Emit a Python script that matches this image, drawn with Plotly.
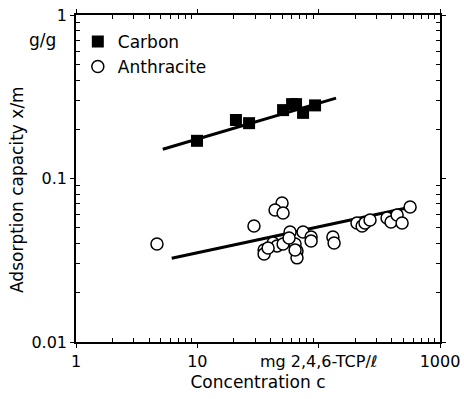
import plotly.graph_objects as go

# Carbon (filled squares)
carbon_c = [9.94, 20.8, 26.7, 50.9, 60.4, 65.1, 74.4, 93.4]
carbon_q = [0.170, 0.228, 0.218, 0.262, 0.285, 0.285, 0.252, 0.280]
carbon_fit_c = [5.19, 139]
carbon_fit_q = [0.151, 0.310]

# Anthracite (open circles)
anth_c = [4.65, 29.3, 49.9, 43.7, 50.9, 35.5, 35.5, 42.1, 45.4, 50.9, 58.1, 63.9,
          66.3, 66.3, 63.9, 74.4, 86.6, 86.6, 131, 134, 207, 228, 241, 265, 366,
          395, 443, 487, 567, 38.3, 57.0]
anth_q = [0.0398, 0.0512, 0.0708, 0.0642, 0.0615, 0.0365, 0.0345, 0.0403, 0.0387,
          0.0398, 0.0471, 0.0398, 0.0360, 0.0327, 0.0365, 0.0471, 0.0439, 0.0415,
          0.0439, 0.0403, 0.0534, 0.0512, 0.0534, 0.0557, 0.0573, 0.0542, 0.0598,
          0.0534, 0.0669, 0.0376, 0.0433]
anth_fit_c = [6.15, 567]
anth_fit_q = [0.0325, 0.0667]

x_tickvals = [1, 10, 100, 1000]
x_ticktext = ["1", "10", "mg 2,4,6-TCP/ℓ", "1000"]
y_tickvals = [0.01, 0.1, 1]
y_ticktext = ["0.01", "0.1", "1"]

x_minor = [m * 10 ** e for e in range(0, 3) for m in range(2, 10)]
y_minor = [m * 10 ** e for e in (-2, -1) for m in range(2, 10)]

FONT = "DejaVu Sans"

fig = go.Figure()
fig.add_trace(go.Scatter(x=carbon_fit_c, y=carbon_fit_q, mode="lines",
                         line=dict(color="black", width=3), showlegend=False))
fig.add_trace(go.Scatter(x=anth_fit_c, y=anth_fit_q, mode="lines",
                         line=dict(color="black", width=3), showlegend=False))
fig.add_trace(go.Scatter(x=carbon_c, y=carbon_q, mode="markers", name="Carbon",
                         marker=dict(symbol="square", size=12, color="black")))
fig.add_trace(go.Scatter(x=anth_c, y=anth_q, mode="markers", name="Anthracite",
                         marker=dict(symbol="circle", size=12, color="white",
                                     line=dict(color="black", width=1.5))))

fig.update_layout(
    width=464, height=399,
    margin=dict(l=76, r=24, t=15, b=57),
    paper_bgcolor="white", plot_bgcolor="white",
    font=dict(family=FONT, size=16, color="black"),
    legend=dict(x=0.005, y=0.973, xanchor="left", yanchor="top",
                bgcolor="rgba(0,0,0,0)", font=dict(size=17), tracegroupgap=0),
    xaxis=dict(type="log", range=[0, 3], tickvals=x_tickvals, ticktext=x_ticktext,
               showgrid=False, zeroline=False, showline=True, linecolor="black",
               linewidth=1.5, mirror="allticks", ticks="outside", ticklen=4,
               tickcolor="black", tickfont=dict(size=16), automargin=False,
               minor=dict(tickvals=x_minor, ticks="inside", ticklen=4, tickcolor="black", showgrid=False),
               title=dict(text="Concentration c", font=dict(size=17), standoff=6)),
    yaxis=dict(type="log", range=[-2, 0], tickvals=y_tickvals, ticktext=y_ticktext,
               showgrid=False, zeroline=False, showline=True, linecolor="black",
               linewidth=1.5, mirror="allticks", ticks="outside", ticklen=4,
               tickcolor="black", tickfont=dict(size=16), automargin=False,
               minor=dict(tickvals=y_minor, ticks="inside", ticklen=4, tickcolor="black", showgrid=False)),
    annotations=[
        dict(text="Adsorption capacity x/m", xref="paper", yref="paper",
             x=-0.162, y=0.465, textangle=-90, showarrow=False,
             xanchor="center", yanchor="middle", font=dict(size=17)),
        dict(text="g/g", xref="paper", yref="paper", x=-0.093, y=0.925,
             showarrow=False, xanchor="center", yanchor="middle", font=dict(size=17)),
    ],
)

fig.write_html("out.html")
